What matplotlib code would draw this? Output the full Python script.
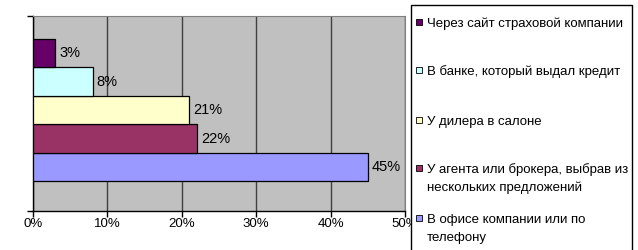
import numpy as np
import matplotlib
matplotlib.use("Agg")
import matplotlib.pyplot as plt
from matplotlib.patches import Rectangle

plt.rcParams['font.family'] = ['Liberation Sans', 'DejaVu Sans']

# Data (bottom to top on the chart)
labels = ['В офисе компании или по\nтелефону',
          'У агента или брокера, выбрав из\nнескольких предложений',
          'У дилера в салоне',
          'В банке, который выдал кредит',
          'Через сайт страховой компании']
values = [45, 22, 21, 8, 3]
colors = ['#9999FF', '#993366', '#FFFFCC', '#CCFFFF', '#660066']
xticks = [0, 10, 20, 30, 40, 50]

W, H = 638, 250
fig = plt.figure(figsize=(W / 100, H / 100), dpi=100)
ax = fig.add_axes([33 / W, 1 - 211 / H, (405 - 33) / W, (211 - 16) / H])
ax.set_facecolor('#C0C0C0')

pos = np.arange(len(values))
bars = ax.barh(pos, values, height=1.0, color=colors, edgecolor='black', linewidth=0.9, zorder=3)
ax.bar_label(bars, labels=[f'{v}%' for v in values], padding=3, fontsize=10.5, color='black')

ax.set_xlim(0, 50)
ax.set_ylim(-1.54, 5.3)
ax.set_xticks(xticks)
ax.set_xticklabels([f'{t}%' for t in xticks], fontsize=9.5)
ax.set_yticks([-1.54, 5.3])
ax.set_yticklabels([])
ax.tick_params(axis='x', direction='out', length=4, width=1, pad=1)
ax.tick_params(axis='y', direction='out', length=4, width=1)
ax.grid(axis='x', color='#404040', linewidth=1, zorder=1)
for s in ['top', 'right']:
    ax.spines[s].set_color('#808080')
for s in ['left', 'bottom']:
    ax.spines[s].set_color('black')
    ax.spines[s].set_linewidth(1)

# Legend drawn by hand, top entry first
fig.patches.append(Rectangle((411 / W, -0.05), (632 - 411) / W, 1.05 - 5 / H,
                             transform=fig.transFigure, facecolor='white', edgecolor='black',
                             linewidth=1, zorder=0))
row_y = [22, 70, 120, 168, 218]
for i, yy in enumerate(row_y):
    k = len(values) - 1 - i
    fig.patches.append(Rectangle((416 / W, 1 - (yy + 3) / H), 6 / W, 6 / H,
                                 transform=fig.transFigure, facecolor=colors[k],
                                 edgecolor='black', linewidth=0.6, zorder=2))
    for j, line in enumerate(labels[k].split('\n')):
        fig.text(427 / W, 1 - (yy + 18 * j) / H, line, fontsize=9.5, va='center_baseline',
                 ha='left', zorder=3)

fig.savefig('out.png', dpi=100)
